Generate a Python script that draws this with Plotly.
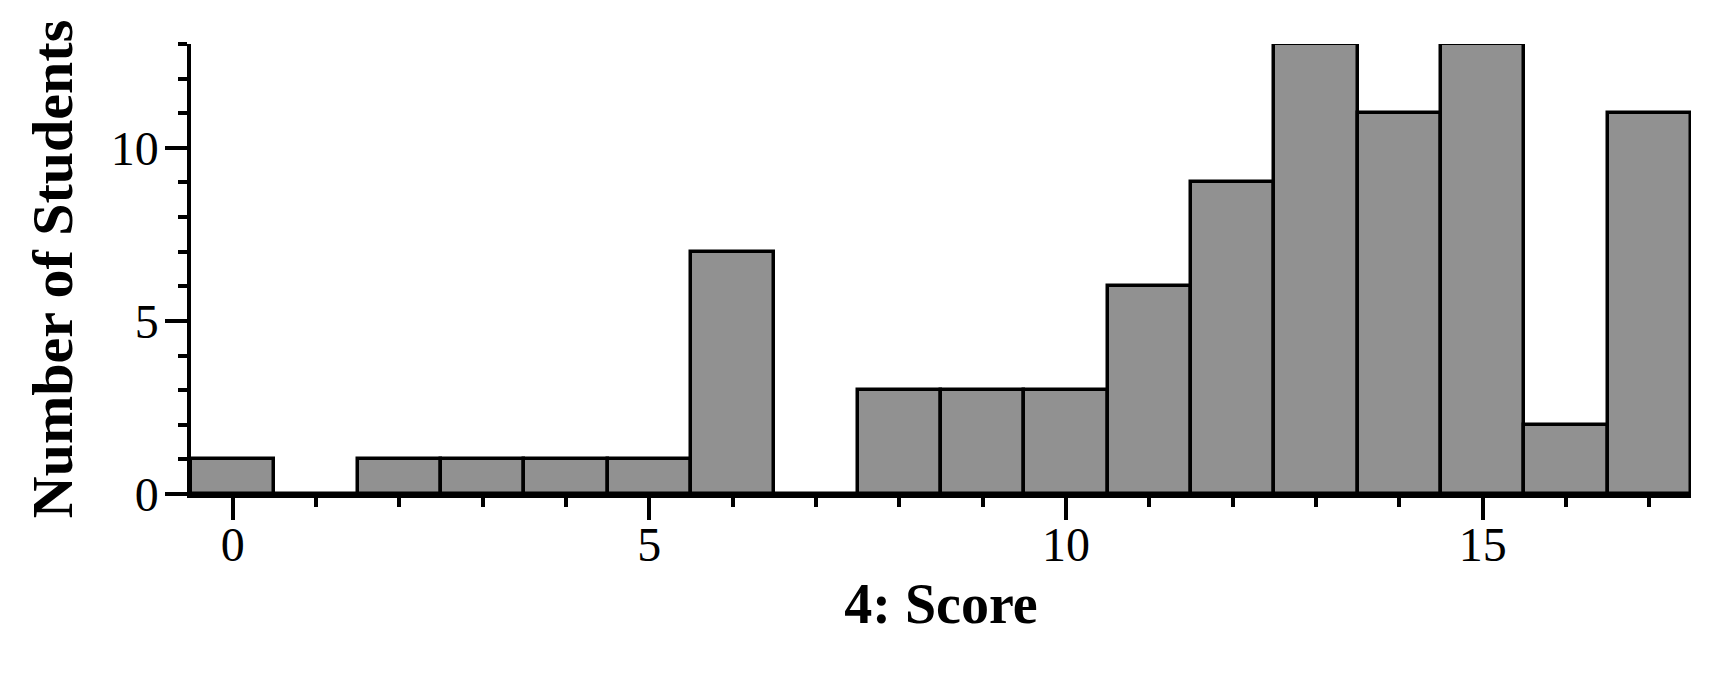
import plotly.graph_objects as go

scores = list(range(18))
counts = [1, 0, 1, 1, 1, 1, 7, 0, 3, 3, 3, 6, 9, 13, 11, 13, 2, 11]
x_ticks = [0, 5, 10, 15]
y_ticks = [0, 5, 10]

FONT = "Liberation Serif"

fig = go.Figure(
    go.Bar(
        x=scores,
        y=counts,
        width=1,
        marker=dict(color="#919191", line=dict(color="black", width=3.5)),
        showlegend=False,
    )
)

axis_common = dict(
    showline=True,
    linecolor="black",
    linewidth=3.5,
    showgrid=False,
    zeroline=False,
    ticks="outside",
    tickwidth=3.5,
    tickcolor="black",
    ticklen=22,
    tickfont=dict(family=FONT, size=48, color="black"),
)

fig.update_layout(
    width=1693,
    height=672,
    paper_bgcolor="white",
    plot_bgcolor="white",
    margin=dict(l=183, r=10, t=36, b=186),
    bargap=0,
    xaxis=dict(
        **axis_common,
        range=[-0.5, 17.5],
        tickvals=x_ticks,
        ticklabelstandoff=-16,
        minor=dict(dtick=1, tick0=0, ticks="outside", ticklen=9, tickwidth=3.5, tickcolor="black"),
        title=dict(text="<b>4: Score</b>", font=dict(family=FONT, size=56, color="black"), standoff=14),
    ),
    yaxis=dict(
        **axis_common,
        range=[0, 13],
        tickvals=y_ticks,
        ticklabelstandoff=-3,
        minor=dict(dtick=1, tick0=0, ticks="outside", ticklen=9, tickwidth=3.5, tickcolor="black"),
        title=dict(text="<b>Number of Students</b>", font=dict(family=FONT, size=58, color="black"), standoff=20),
    ),
)

fig.write_html("out.html")
